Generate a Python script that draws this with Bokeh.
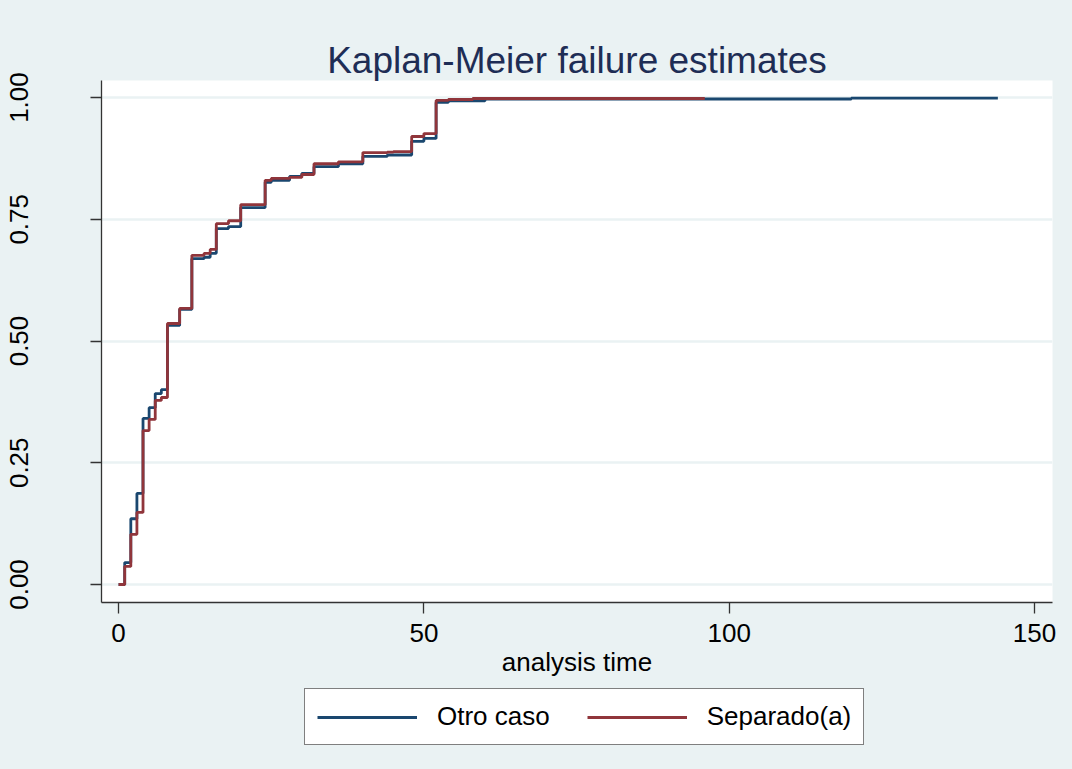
from bokeh.plotting import figure
from bokeh.layouts import column
from bokeh.models import (Range1d, FixedTicker, NumeralTickFormatter, Legend, LegendItem, Title)
from bokeh.embed import file_html
from bokeh.resources import INLINE

# Kaplan-Meier failure estimates
otro_t = [0, 1, 2, 3, 4, 5, 6, 7, 8, 10, 12, 14, 15, 16, 18, 20, 24, 25, 28, 30,
          32, 36, 40, 44, 48, 50, 52, 54, 60, 120, 144]
otro_f = [0.0, 0.045, 0.135, 0.187, 0.341, 0.363, 0.392, 0.400, 0.532, 0.565, 0.669,
          0.672, 0.680, 0.731, 0.735, 0.774, 0.826, 0.830, 0.838, 0.844,
          0.858, 0.864, 0.879, 0.882, 0.910, 0.916, 0.990, 0.993, 0.997, 0.999, 0.999]

sep_t = [0, 1, 2, 3, 4, 5, 6, 7, 8, 10, 12, 14, 15, 16, 18, 20, 24, 25, 28, 30,
         32, 36, 40, 44, 45, 48, 50, 52, 54, 58, 96]
sep_f = [0.0, 0.037, 0.103, 0.148, 0.316, 0.339, 0.378, 0.384, 0.536, 0.567, 0.676,
         0.680, 0.688, 0.741, 0.747, 0.780, 0.830, 0.834, 0.836, 0.842,
         0.864, 0.868, 0.887, 0.888, 0.889, 0.920, 0.926, 0.994, 0.996, 0.998, 0.998]

x_ticks = [0, 50, 100, 150]
y_ticks = [0, 0.25, 0.5, 0.75, 1.0]
series_names = ["Otro caso", "Separado(a)"]

BG = "#EAF2F3"
NAVY = "#1A476F"
MAROON = "#90353B"
FONT = "Liberation Sans"
LW = 2.8

p = figure(width=1072, height=685, output_backend="svg", toolbar_location=None,
           x_range=Range1d(-2.8, 152.95), y_range=Range1d(-0.037, 1.035),
           min_border_left=101, min_border_right=20, min_border_top=80, min_border_bottom=83,
           styles={"background-color": BG})
p.background_fill_color = "white"
p.border_fill_color = BG
p.outline_line_color = None

p.title = Title(text="Kaplan-Meier failure estimates", align="center",
                text_font=FONT, text_font_size="37px", text_font_style="normal",
                text_color="#1E2D55", standoff=0)

p.step(otro_t, otro_f, mode="after", line_color=NAVY, line_width=LW)
p.step(sep_t, sep_f, mode="after", line_color=MAROON, line_width=LW)

p.xgrid.visible = False
p.ygrid.ticker = FixedTicker(ticks=y_ticks)
p.ygrid.grid_line_color = BG
p.ygrid.grid_line_width = 2.5

for ax in (p.xaxis[0], p.yaxis[0]):
    ax.axis_line_color = "#333333"
    ax.axis_line_width = 1.3
    ax.major_tick_line_color = "#333333"
    ax.major_tick_line_width = 1.3
    ax.major_tick_out = 11
    ax.major_tick_in = 0
    ax.minor_tick_line_color = None
    ax.major_label_text_font = FONT
    ax.major_label_text_font_size = "26px"
    ax.major_label_text_color = "black"

p.xaxis.ticker = FixedTicker(ticks=x_ticks)
p.xaxis.major_label_standoff = 10
p.xaxis.axis_label = "analysis time"
p.xaxis.axis_label_text_font = FONT
p.xaxis.axis_label_text_font_size = "26px"
p.xaxis.axis_label_text_font_style = "normal"
p.xaxis.axis_label_text_color = "black"
p.xaxis.axis_label_standoff = 2

p.yaxis.ticker = FixedTicker(ticks=y_ticks)
p.yaxis.formatter = NumeralTickFormatter(format="0.00")
p.yaxis.major_label_orientation = "vertical"
p.yaxis.major_label_standoff = 62

# legend strip below the chart (its ranges keep the series out of view;
# the step renderers only provide the legend's line samples)
p2 = figure(width=1072, height=84, output_backend="svg", toolbar_location=None,
            x_range=Range1d(500, 501), y_range=Range1d(500, 501),
            x_axis_type=None, y_axis_type=None,
            min_border_left=101, min_border_right=20, min_border_top=0, min_border_bottom=0,
            styles={"background-color": BG})
p2.background_fill_color = BG
p2.border_fill_color = BG
p2.outline_line_color = None
p2.grid.visible = False
l1 = p2.step(otro_t, otro_f, mode="after", line_color=NAVY, line_width=LW)
l2 = p2.step(sep_t, sep_f, mode="after", line_color=MAROON, line_width=LW)

legend = Legend(items=[LegendItem(label=series_names[0], renderers=[l1]),
                       LegendItem(label=series_names[1], renderers=[l2])],
                orientation="horizontal", location=(203, 24),
                label_text_font=FONT, label_text_font_size="26px", label_text_color="black",
                glyph_width=100, glyph_height=28, label_height=28,
                label_standoff=20, spacing=37,
                padding=12, margin=0,
                border_line_color="black", border_line_width=1.2,
                background_fill_color="white", background_fill_alpha=1.0)
p2.add_layout(legend, "center")

layout = column(p, p2, spacing=0, styles={"background-color": BG})
open("out.html", "w").write(file_html(layout, INLINE))
